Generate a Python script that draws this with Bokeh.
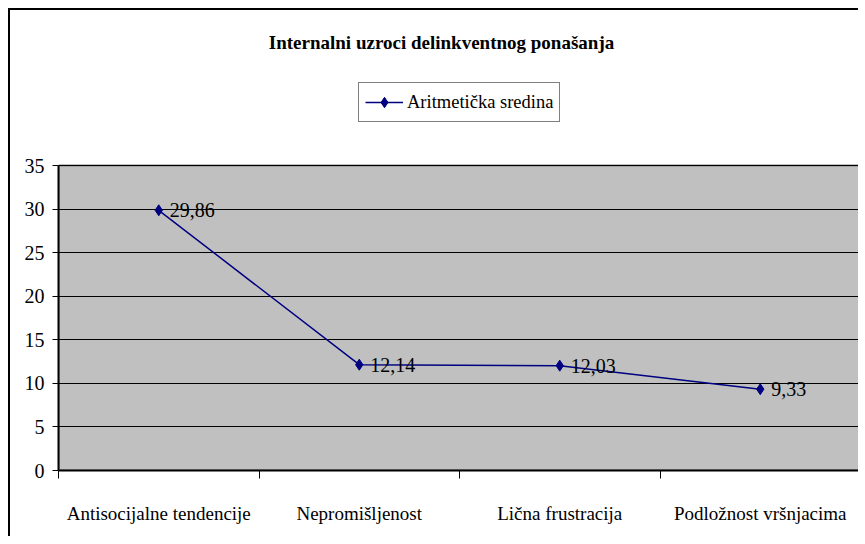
from bokeh.plotting import figure
from bokeh.models import (FixedTicker, Label, Legend, LegendItem, ColumnDataSource,
                          Range1d, LabelSet)
from bokeh.embed import file_html
from bokeh.resources import INLINE

categories = ["Antisocijalne tendencije", "Nepromišljenost", "Lična frustracija", "Podložnost vršnjacima"]
means = [29.86, 12.14, 12.03, 9.33]
mean_labels = ["29,86", "12,14", "12,03", "9,33"]
y_ticks = [0, 5, 10, 15, 20, 25, 30, 35]
title_text = "Internalni uzroci delinkventnog ponašanja"
series_name = "Aritmetička sredina"

FONT = "Times New Roman"
NAVY = "#000080"

# layout (pixels, canvas coordinates)
W, H = 850, 528
LEFT, BOTTOM = 48, 68
AXIS_TOP = 155          # pixel row of the top of the value axis (y = 35)
frame_h = H - BOTTOM
y_lo, y_hi = y_ticks[0], y_ticks[-1]
px_per_unit = (frame_h - AXIS_TOP) / (y_hi - y_lo)
y_top = y_hi + AXIS_TOP / px_per_unit

xs = [i + 0.5 for i in range(len(categories))]
src = ColumnDataSource(dict(x=xs, y=means, lbl=mean_labels))

p = figure(width=W, height=H, x_range=Range1d(0, len(categories)),
           y_range=Range1d(y_lo, y_top),
           output_backend="svg", toolbar_location=None,
           min_border_left=LEFT, min_border_right=0, min_border_top=0,
           min_border_bottom=BOTTOM)
p.styles = {"border-left": "2px solid black", "border-top": "2px solid black",
            "margin-left": "8px", "margin-top": "8px"}
p.background_fill_color = "white"
p.border_fill_color = "white"
p.outline_line_color = None

# plot area
p.quad(left=[0], right=[len(categories)], bottom=[y_lo], top=[y_hi],
       fill_color="#C0C0C0", line_color="#808080", line_width=2, level="image")

# axes
p.xaxis.ticker = FixedTicker(ticks=xs, minor_ticks=list(range(len(categories) + 1)))
p.xaxis.major_label_overrides = {x: c for x, c in zip(xs, categories)}
p.xaxis.major_tick_out = 0
p.xaxis.major_tick_in = 0
p.xaxis.minor_tick_out = 8
p.xaxis.minor_tick_in = 0
p.xaxis.minor_tick_line_color = "black"
p.xaxis.major_label_standoff = 24
p.xaxis.axis_line_color = "black"
p.xaxis.axis_line_width = 2
p.xaxis.major_label_text_font_size = "19px"

p.yaxis.ticker = FixedTicker(ticks=y_ticks)
p.yaxis.bounds = (y_lo, y_hi)
p.yaxis.major_tick_out = 6
p.yaxis.major_tick_in = 0
p.yaxis.minor_tick_line_color = None
p.yaxis.major_label_standoff = 8
p.yaxis.axis_line_color = "black"
p.yaxis.axis_line_width = 2
p.yaxis.major_label_text_font_size = "20px"

for ax in (p.xaxis, p.yaxis):
    ax.major_label_text_font = FONT
    ax.major_label_text_color = "black"
    ax.major_tick_line_color = "black"

p.xgrid.visible = False
p.ygrid.grid_line_color = "black"
p.ygrid.grid_line_width = 1

line_r = p.line("x", "y", source=src, line_color=NAVY, line_width=1.5)
pt_r = p.scatter("x", "y", source=src, marker="diamond", size=11,
                 fill_color=NAVY, line_color=NAVY)

labels = LabelSet(x="x", y="y", text="lbl", source=src, x_offset=11, y_offset=0,
                  text_baseline="middle", text_font=FONT, text_font_size="20px",
                  text_color="black")
p.add_layout(labels)

legend = Legend(items=[LegendItem(label=series_name, renderers=[line_r, pt_r])],
                location=(300, 348), orientation="vertical",
                border_line_color="black", border_line_width=1,
                background_fill_color="white", background_fill_alpha=1,
                label_text_font=FONT, label_text_font_size="18.5px",
                label_text_color="black",
                glyph_width=38, glyph_height=26, padding=6, margin=0,
                label_standoff=4)
p.add_layout(legend, "center")

title = Label(x=383, y=428, x_units="screen", y_units="screen", text=title_text,
              text_align="center", text_baseline="middle", text_font=FONT,
              text_font_size="19px", text_font_style="bold", text_color="black")
p.add_layout(title)

open("out.html", "w").write(file_html(p, INLINE))
